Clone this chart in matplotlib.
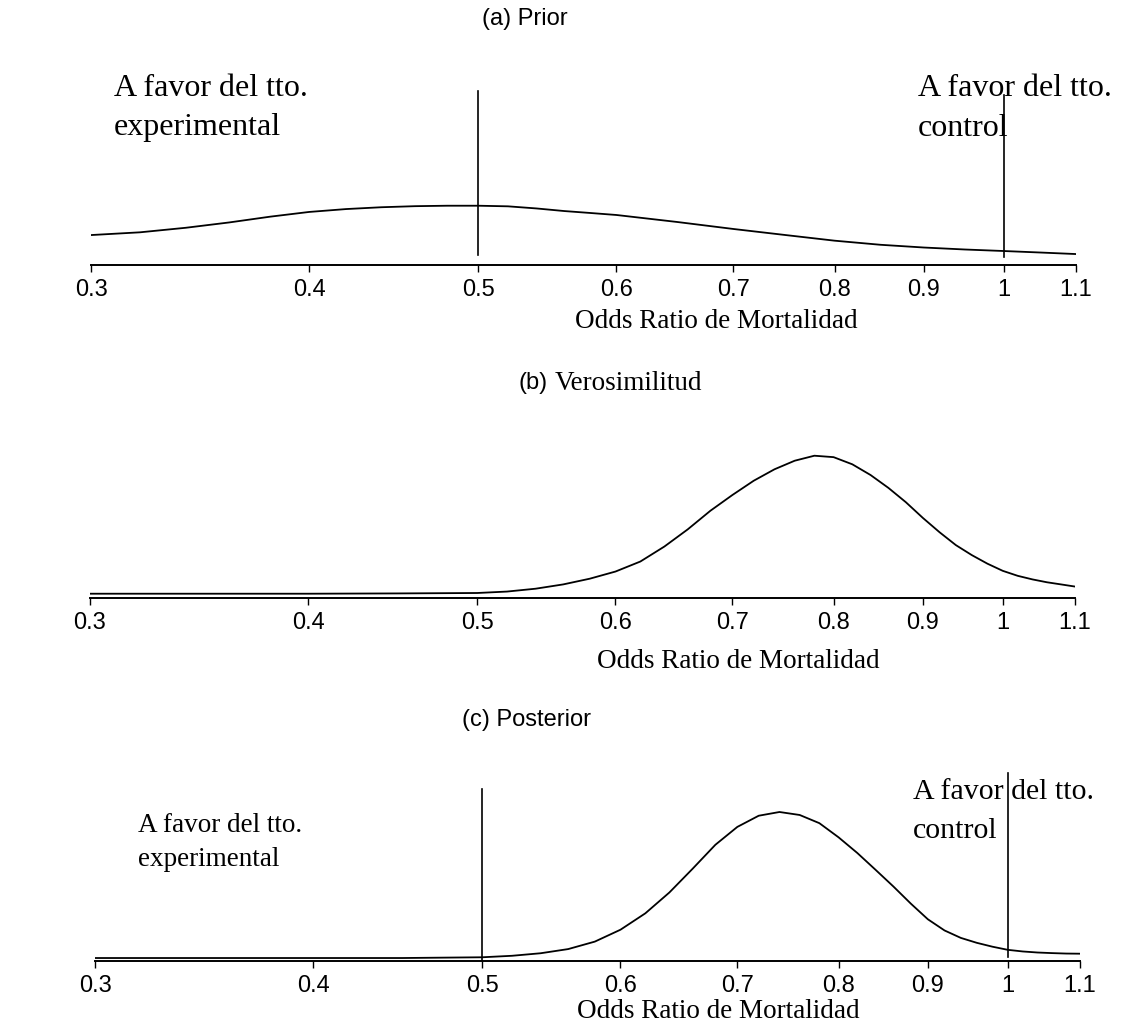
import matplotlib
matplotlib.use("Agg")
import matplotlib.pyplot as plt
from matplotlib.ticker import NullLocator, FixedLocator, FixedFormatter

# Odds ratio ticks shared by all three panels
tick_values = [0.3, 0.4, 0.5, 0.6, 0.7, 0.8, 0.9, 1.0, 1.1]
tick_labels = ["0.3", "0.4", "0.5", "0.6", "0.7", "0.8", "0.9", "1", "1.1"]

# (a) Prior density (relative height) over odds ratio
prior_or = [0.30, 0.32, 0.34, 0.36, 0.38, 0.40, 0.42, 0.44, 0.46, 0.48, 0.50,
            0.52, 0.54, 0.56, 0.58, 0.60, 0.65, 0.70, 0.75, 0.80, 0.85, 0.90,
            0.95, 1.00, 1.05, 1.10]
prior_dens = [0.197, 0.215, 0.245, 0.280, 0.318, 0.349, 0.368, 0.380, 0.387, 0.390, 0.390,
              0.386, 0.372, 0.355, 0.342, 0.329, 0.283, 0.237, 0.197, 0.160, 0.133, 0.115,
              0.102, 0.092, 0.082, 0.072]

# (b) Likelihood (relative height, peak = 1) over odds ratio
lik_or = [0.30, 0.35, 0.40, 0.45, 0.50, 0.52, 0.54, 0.56, 0.58, 0.60, 0.62, 0.64,
          0.66, 0.68, 0.70, 0.72, 0.74, 0.76, 0.78, 0.80, 0.82, 0.84, 0.86, 0.88,
          0.90, 0.92, 0.94, 0.96, 0.98, 1.00, 1.02, 1.04, 1.06, 1.08, 1.10]
lik_dens = [0.030, 0.030, 0.030, 0.032, 0.035, 0.045, 0.065, 0.095, 0.135, 0.185, 0.255, 0.360,
            0.480, 0.610, 0.720, 0.820, 0.900, 0.960, 0.995, 0.985, 0.935, 0.860, 0.770, 0.670,
            0.560, 0.460, 0.370, 0.300, 0.240, 0.190, 0.155, 0.130, 0.110, 0.095, 0.080]

# (c) Posterior density (relative height, peak = 1) over odds ratio
post_or = [0.30, 0.35, 0.40, 0.45, 0.50, 0.52, 0.54, 0.56, 0.58, 0.60, 0.62, 0.64,
           0.66, 0.68, 0.70, 0.72, 0.74, 0.76, 0.78, 0.80, 0.82, 0.84, 0.86, 0.88,
           0.90, 0.92, 0.94, 0.96, 0.98, 1.00, 1.02, 1.04, 1.06, 1.08, 1.10]
post_dens = [0.020, 0.020, 0.020, 0.020, 0.025, 0.035, 0.052, 0.080, 0.130, 0.210, 0.320, 0.460,
             0.620, 0.780, 0.900, 0.975, 1.000, 0.980, 0.925, 0.830, 0.725, 0.612, 0.500, 0.385,
             0.280, 0.205, 0.155, 0.122, 0.096, 0.075, 0.064, 0.057, 0.053, 0.050, 0.049]

# Reference odds ratios marked with vertical lines
ref_lines = [0.5, 1.0]

W, H = 1129, 1032
fig = plt.figure(figsize=(W / 100, H / 100), dpi=100)
fig.patch.set_facecolor("white")

SERIF = ["Liberation Serif", "DejaVu Serif"]
SANS = ["Liberation Sans", "DejaVu Sans"]


def fx(px):
    return px / W


def fy(py):
    return 1 - py / H


def panel(left_px, bottom_px, top_px, px_per_unit, xs, ys):
    right_px = left_px + 985
    ax = fig.add_axes([fx(left_px), fy(bottom_px), (right_px - left_px) / W,
                       (bottom_px - top_px) / H])
    ax.set_xscale("log")
    ax.set_xlim(0.3, 1.1)
    ax.set_ylim(0, (bottom_px - top_px) / px_per_unit)
    ax.plot(xs, ys, color="black", lw=1.3, solid_joinstyle="round",
            solid_capstyle="round")
    for s in ("top", "right", "left"):
        ax.spines[s].set_visible(False)
    ax.spines["bottom"].set_linewidth(1.4)
    ax.set_yticks([])
    ax.xaxis.set_major_locator(FixedLocator(tick_values))
    ax.xaxis.set_major_formatter(FixedFormatter(tick_labels))
    ax.xaxis.set_minor_locator(NullLocator())
    ax.tick_params(axis="x", direction="out", length=5, width=1.0, pad=5,
                   labelsize=17)
    for lab in ax.get_xticklabels():
        lab.set_family(SANS)
    ax.patch.set_alpha(0)
    return ax


# (a) Prior
ax_a = panel(91, 265, 60, 152, prior_or, prior_dens)
ax_a.axvline(ref_lines[0], ymin=0.05, ymax=0.85, color="black", lw=1.2)
ax_a.axvline(ref_lines[1], ymin=0.04, ymax=0.83, color="black", lw=1.2)

# (b) Likelihood
ax_b = panel(90, 598, 400, 143, lik_or, lik_dens)

# (c) Posterior
ax_c = panel(95, 961, 740, 149, post_or, post_dens)
ax_c.axvline(ref_lines[0], ymin=0.0, ymax=0.78, color="black", lw=1.2)
ax_c.axvline(ref_lines[1], ymin=0.02, ymax=0.85, color="black", lw=1.2)


def label(px, py, s, size, family, ha="left"):
    fig.text(fx(px), fy(py), s, fontsize=size, family=family, ha=ha,
             va="center", color="black")


# Panel titles
label(482, 19, "(a) Prior", 17, SANS)
label(518, 383, "(b)", 17, SANS)
label(555, 383, "Verosimilitud", 19.5, SERIF)
label(462, 720, "(c) Posterior", 17, SANS)

# Region annotations
label(114, 88, "A favor del tto.", 23, SERIF)
label(114, 128, "experimental", 23, SERIF)
label(918, 88, "A favor del tto.", 23, SERIF)
label(918, 128, "control", 23, SERIF)
label(138, 825, "A favor del tto.", 19.5, SERIF)
label(138, 860, "experimental", 19.5, SERIF)
label(913, 792, "A favor del tto.", 21.5, SERIF)
label(913, 831, "control", 21.5, SERIF)

# Axis titles
label(716, 322, "Odds Ratio de Mortalidad", 19.5, SERIF, ha="center")
label(738, 661, "Odds Ratio de Mortalidad", 19.5, SERIF, ha="center")
label(718, 1011, "Odds Ratio de Mortalidad", 19.5, SERIF, ha="center")

fig.savefig("out.png", dpi=100)
